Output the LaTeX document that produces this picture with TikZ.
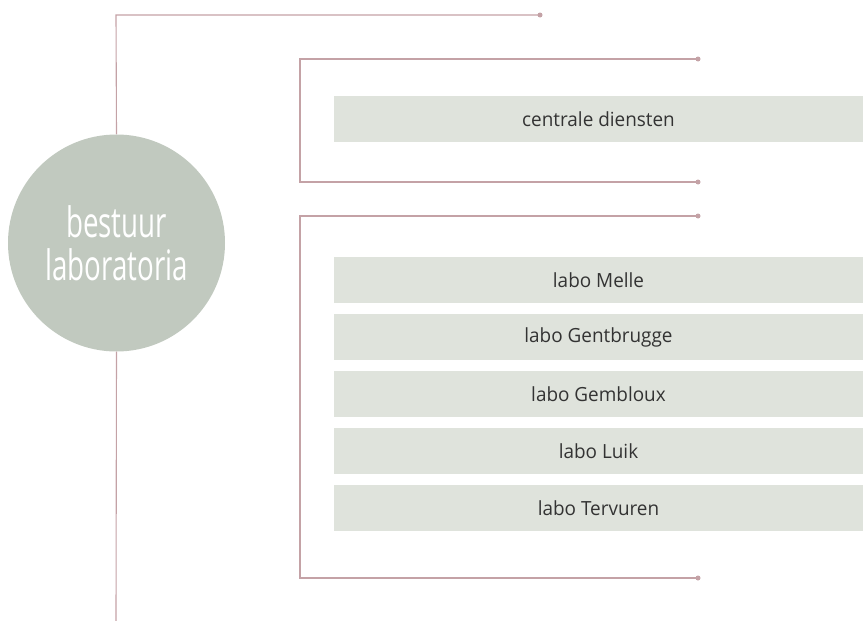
\documentclass[tikz,border=0pt]{standalone}
\usepackage{fontspec}
\setmainfont{Open Sans}
\newfontfamily\condfont[FakeStretch=0.66]{Open Sans}
\newfontfamily\boxfont[FakeStretch=0.97]{Open Sans}
\definecolor{linec}{HTML}{C4A2A6}
\definecolor{boxc}{HTML}{DFE3DC}
\definecolor{circc}{HTML}{C1C9BF}
\definecolor{txtc}{HTML}{333333}
\begin{document}
\begin{tikzpicture}[x=1pt,y=-1pt,
  conn/.style={draw=linec, line width=1.1pt},
  enddot/.style={circle, fill=linec, inner sep=0pt, minimum size=5pt},
  unit/.style={fill=boxc, minimum width=529pt, minimum height=46pt, inner sep=0pt, text=txtc, font=\boxfont\fontsize{19.5}{22}\selectfont},
  ]
\useasboundingbox (0,0) rectangle (863,621);
\node[circle, fill=circc, minimum size=217pt, inner sep=0pt, text=white, align=center,
      font=\condfont\fontsize{42}{43}\selectfont] (head) at (116.5,243) {bestuur\\laboratoria};

\node[unit] (cd) at (598.5,119) {centrale diensten};
\node[unit] (melle) at (598.5,280) {labo Melle};
\node[unit] (gent) at (598.5,337) {labo Gentbrugge};
\node[unit] (gemb) at (598.5,394) {labo Gembloux};
\node[unit] (luik) at (598.5,451) {labo Luik};
\node[unit] (terv) at (598.5,508) {labo Tervuren};

\coordinate (t0) at (116,15);
\coordinate (bot) at (116,621);
\node[enddot] (t1) at (540,15) {};
\draw[conn] (head.north) -- (t0) -- (t1.center);
\draw[conn] (head.south) -- (bot);

\coordinate (a0) at (300,59);
\coordinate (a2) at (300,182);
\node[enddot] (a1) at (698,59) {};
\node[enddot] (a3) at (698,182) {};
\draw[conn] (a1.center) -- (a0) -- (a2) -- (a3.center);

\coordinate (b0) at (300,216);
\coordinate (b2) at (300,578);
\node[enddot] (b1) at (698,216) {};
\node[enddot] (b3) at (698,578) {};
\draw[conn] (b1.center) -- (b0) -- (b2) -- (b3.center);
\end{tikzpicture}
\end{document}
